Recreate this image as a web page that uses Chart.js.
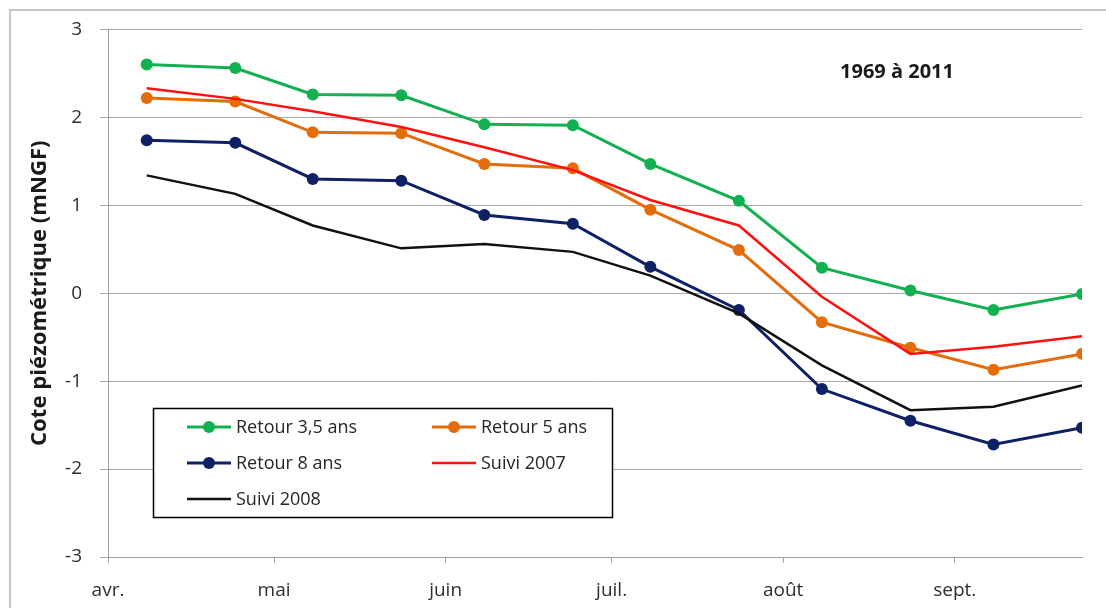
<!DOCTYPE html>
<html>
<head>
<meta charset="utf-8">
<script src="https://cdn.jsdelivr.net/npm/chart.js@4/dist/chart.umd.min.js"></script>
<style>
  body { margin: 0; background: #fff; }
  #wrap { width: 1106px; height: 608px; }
</style>
</head>
<body>
<div id="wrap"><canvas id="graph"></canvas></div>
<script>
// jours comptes depuis le 1er avril (le 8 et le 24 de chaque mois)
let jours = [7, 23, 37, 53, 68, 84, 98, 114, 129, 145, 160, 176];
let moisDebut = [0, 30, 61, 91, 122, 153];
let moisNoms = ["avr.", "mai", "juin", "juil.", "août", "sept."];

let retour35 = [2.60, 2.56, 2.26, 2.25, 1.92, 1.91, 1.47, 1.05, 0.29, 0.03, -0.19, -0.01];
let retour5 = [2.22, 2.18, 1.83, 1.82, 1.47, 1.42, 0.95, 0.49, -0.33, -0.62, -0.87, -0.69];
let retour8 = [1.74, 1.71, 1.30, 1.28, 0.89, 0.79, 0.30, -0.19, -1.09, -1.45, -1.72, -1.53];
let suivi2007 = [2.33, 2.21, 2.07, 1.89, 1.66, 1.40, 1.06, 0.77, -0.04, -0.69, -0.61, -0.49];
let suivi2008 = [1.34, 1.13, 0.77, 0.51, 0.56, 0.47, 0.20, -0.23, -0.82, -1.33, -1.29, -1.05];

let titre = "1969 à 2011";
let titreY = "Cote piézométrique (mNGF)";

let police = "'Open Sans', sans-serif";

function serie(label, valeurs, couleur, largeur, rayon, ordre) {
    return {
        label: label,
        data: jours.map(function(j, i) { return { x: j, y: valeurs[i] }; }),
        borderColor: couleur,
        backgroundColor: couleur,
        borderWidth: largeur,
        pointRadius: rayon,
        pointHoverRadius: rayon,
        pointBorderWidth: 0,
        tension: 0,
        order: ordre
    };
}

let datasets = [
    serie("Retour 3,5 ans", retour35, "#12b050", 3, 6, 5),
    serie("Retour 5 ans", retour5, "#e46c0a", 3, 6, 4),
    serie("Retour 8 ans", retour8, "#0e2066", 3, 6, 3),
    serie("Suivi 2007", suivi2007, "#ff1010", 2.5, 0, 2),
    serie("Suivi 2008", suivi2008, "#111111", 2.5, 0, 1)
];

// cadre, titre, titre de l'axe Y et legende
let decor = {
    id: "decor",
    beforeDraw: function(chart) {
        let ctx = chart.ctx;
        ctx.save();
        ctx.fillStyle = "#fff";
        ctx.fillRect(0, 0, chart.width, chart.height);
        ctx.strokeStyle = "#c4c4c4";
        ctx.lineWidth = 2;
        ctx.strokeRect(10, 10, chart.width + 20, chart.height + 20);
        ctx.restore();
    },
    afterDraw: function(chart) {
        let ctx = chart.ctx;
        let area = chart.chartArea;
        ctx.save();

        // titre
        ctx.fillStyle = "#1a1a1a";
        ctx.font = "bold 20px " + police;
        ctx.textAlign = "center";
        ctx.textBaseline = "middle";
        ctx.fillText(titre, 897, 72);

        // titre axe Y
        ctx.font = "bold 18px " + police;
        let w = ctx.measureText(titreY).width;
        let taille = Math.min(23, 18 * 305 / w);
        ctx.font = "bold " + taille.toFixed(1) + "px " + police;
        ctx.translate(40, (area.top + area.bottom) / 2);
        ctx.rotate(-Math.PI / 2);
        ctx.fillText(titreY, 0, 0);
        ctx.setTransform(1, 0, 0, 1, 0, 0);

        // legende
        let bx = 153, by = 408, bw = 459, bh = 109;
        ctx.fillStyle = "#fff";
        ctx.fillRect(bx, by, bw, bh);
        ctx.strokeStyle = "#000";
        ctx.lineWidth = 1.5;
        ctx.strokeRect(bx + 0.5, by + 0.5, bw, bh);

        let colX = [187, 432];
        let rowY = [427, 463, 499];
        ctx.font = "18px " + police;
        ctx.textAlign = "left";
        chart.data.datasets.forEach(function(ds, i) {
            let x = colX[i % 2];
            let y = rowY[Math.floor(i / 2)];
            ctx.strokeStyle = ds.borderColor;
            ctx.lineWidth = ds.borderWidth;
            ctx.beginPath();
            ctx.moveTo(x, y);
            ctx.lineTo(x + 44, y);
            ctx.stroke();
            if (ds.pointRadius > 0) {
                ctx.fillStyle = ds.backgroundColor;
                ctx.beginPath();
                ctx.arc(x + 22, y, ds.pointRadius, 0, Math.PI * 2);
                ctx.fill();
            }
            ctx.fillStyle = "#262626";
            ctx.fillText(ds.label, x + 49, y + 1);
        });
        ctx.restore();
    }
};

new Chart(document.getElementById("graph"), {
    type: "line",
    data: { datasets: datasets },
    options: {
        responsive: true,
        maintainAspectRatio: false,
        animation: false,
        layout: { padding: { top: 29, right: 24, left: 0, bottom: 0 } },
        plugins: {
            legend: { display: false },
            tooltip: { enabled: false }
        },
        scales: {
            x: {
                type: "linear",
                min: 0,
                max: 176,
                afterBuildTicks: function(scale) {
                    scale.ticks = moisDebut.map(function(v) { return { value: v }; });
                },
                afterFit: function(scale) { scale.height = 51; },
                ticks: {
                    autoSkip: false,
                    maxRotation: 0,
                    padding: 16,
                    color: "#2e2e2e",
                    font: { family: police, size: 19 },
                    callback: function(v, i) { return moisNoms[i]; }
                },
                grid: {
                    drawOnChartArea: false,
                    tickLength: 6,
                    color: "#a0a0a0"
                },
                border: { color: "#a0a0a0" }
            },
            y: {
                min: -3,
                max: 3,
                afterFit: function(scale) { scale.width = 108; },
                ticks: {
                    stepSize: 1,
                    padding: 18,
                    color: "#2e2e2e",
                    font: { family: police, size: 19 }
                },
                grid: {
                    color: "#a8a8a8",
                    tickLength: 8
                },
                border: { color: "#a0a0a0" }
            }
        }
    },
    plugins: [decor]
});
</script>
</body>
</html>
